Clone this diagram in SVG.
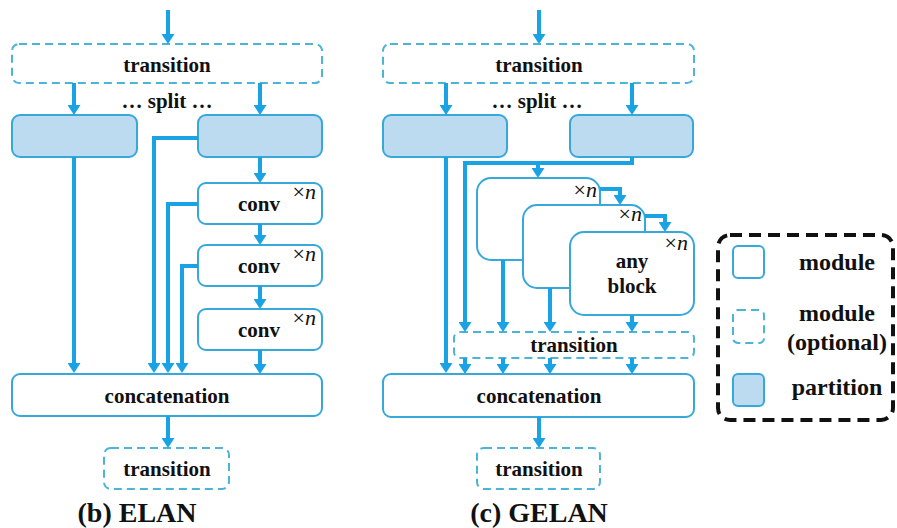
<svg xmlns="http://www.w3.org/2000/svg" width="897" height="528" viewBox="0 0 897 528">
<style>
.mod{fill:#fff;stroke:#36a8da;stroke-width:2}
.opt{fill:#fff;stroke:#4cb4d6;stroke-width:2;stroke-dasharray:8 5}
.part{fill:#bcdaf0;stroke:#36a8da;stroke-width:2}
.blk{fill:#fff;stroke:#36a8da;stroke-width:2}
.c{fill:none;stroke:#19a3e4;stroke-width:4;marker-end:url(#ah)}
.t{font-family:"Liberation Serif","Times New Roman",serif;font-weight:bold;font-size:21px;fill:#111;text-anchor:middle}
.xn{font-family:"Liberation Serif","Times New Roman",serif;font-size:22px;fill:#111;text-anchor:end}
.cap{font-family:"Liberation Serif","Times New Roman",serif;font-weight:bold;font-size:28px;fill:#111;text-anchor:middle}
.lg{font-family:"Liberation Serif","Times New Roman",serif;font-weight:bold;font-size:24px;fill:#111;text-anchor:middle}
</style>
<defs>
<marker id="ah" markerUnits="userSpaceOnUse" markerWidth="12" markerHeight="13" refX="4" refY="6.5" orient="auto">
<path d="M0,0 L10,6.5 L0,13 z" fill="#19a3e4"/>
</marker>
</defs>
<rect width="897" height="528" fill="#fff"/>

<!-- ELAN -->
<g id="elan-transition-top"><rect class="opt" x="12" y="44" width="310" height="39" rx="7"/><text class="t" x="167" y="72">transition</text></g>
<text class="t" x="167" y="108">… split …</text>
<g id="elan-part-left"><rect class="part" x="12" y="115" width="125" height="42" rx="8"/></g>
<g id="elan-part-right"><rect class="part" x="198" y="115" width="124" height="42" rx="8"/></g>
<g id="elan-conv1"><rect class="mod" x="198" y="183" width="124" height="41" rx="8"/><text class="t" x="259" y="211">conv</text><text class="xn" x="316" y="199">×<tspan font-style="italic">n</tspan></text></g>
<g id="elan-conv2"><rect class="mod" x="198" y="245" width="124" height="41" rx="8"/><text class="t" x="259" y="273">conv</text><text class="xn" x="316" y="261">×<tspan font-style="italic">n</tspan></text></g>
<g id="elan-conv3"><rect class="mod" x="198" y="309" width="124" height="41" rx="8"/><text class="t" x="259" y="337">conv</text><text class="xn" x="316" y="325">×<tspan font-style="italic">n</tspan></text></g>
<g id="elan-concat"><rect class="mod" x="12" y="374" width="310" height="42" rx="8"/><text class="t" x="167" y="403">concatenation</text></g>
<g id="elan-transition-bottom"><rect class="opt" x="104" y="448" width="125" height="41" rx="7"/><text class="t" x="167" y="476">transition</text></g>
<text class="cap" x="137" y="522">(b) ELAN</text>

<!-- GELAN -->
<g id="gelan-transition-top"><rect class="opt" x="383" y="44" width="311" height="39" rx="7"/><text class="t" x="539" y="72">transition</text></g>
<text class="t" x="537" y="108">… split …</text>
<g id="gelan-part-left"><rect class="part" x="383" y="115" width="124" height="42" rx="8"/></g>
<g id="gelan-part-right"><rect class="part" x="570" y="115" width="123" height="42" rx="8"/></g>
<g id="gelan-block1"><rect class="blk" x="477" y="178" width="123" height="82" rx="14"/><text class="xn" x="597" y="197">×<tspan font-style="italic">n</tspan></text></g>
<g id="gelan-block2"><rect class="blk" x="523" y="205" width="122" height="83" rx="14"/><text class="xn" x="642" y="221">×<tspan font-style="italic">n</tspan></text></g>
<g id="gelan-block3"><rect class="blk" x="570" y="232" width="124" height="83" rx="14"/><text class="xn" x="688" y="250">×<tspan font-style="italic">n</tspan></text><text class="t" x="632" y="268">any</text><text class="t" x="632" y="293">block</text></g>
<g id="gelan-transition-mid"><rect class="opt" x="454" y="332" width="240" height="26" rx="6"/><text class="t" x="574" y="352">transition</text></g>
<g id="gelan-concat"><rect class="mod" x="383" y="374" width="311" height="43" rx="8"/><text class="t" x="539" y="403">concatenation</text></g>
<g id="gelan-transition-bottom"><rect class="opt" x="477" y="448" width="123" height="41" rx="7"/><text class="t" x="539" y="476">transition</text></g>
<text class="cap" x="539" y="522">(c) GELAN</text>

<!-- Legend -->
<g id="legend">
<rect x="718" y="235" width="175" height="185" rx="12" fill="none" stroke="#111" stroke-width="4" stroke-dasharray="12 7"/>
<rect class="mod" x="733" y="246" width="31" height="32" rx="5"/>
<rect class="opt" x="733" y="310" width="31" height="33" rx="5" stroke-dasharray="6 4"/>
<rect class="part" x="733" y="374" width="31" height="32" rx="5"/>
<text class="lg" x="837" y="270">module</text>
<text class="lg" x="837" y="321">module</text>
<text class="lg" x="837" y="350">(optional)</text>
<text class="lg" x="837" y="395">partition</text>
</g>

<!-- Connectors -->
<g id="connectors">
<path class="c" d="M168,10 V38"/>
<path class="c" d="M74,83 V109"/>
<path class="c" d="M260,83 V109"/>
<path class="c" d="M74,157 V367"/>
<path class="c" d="M198,138 H154 V367"/>
<path class="c" d="M260,157 V177"/>
<path class="c" d="M198,204 H168 V367"/>
<path class="c" d="M260,224 V239"/>
<path class="c" d="M198,266 H182 V367"/>
<path class="c" d="M260,286 V303"/>
<path class="c" d="M260,350 V368"/>
<path class="c" d="M168,416 V442"/>

<path class="c" d="M539,10 V38"/>
<path class="c" d="M446,83 V109"/>
<path class="c" d="M632,83 V109"/>
<path class="c" d="M446,157 V367"/>
<path class="c" d="M632,157 V163 H465 V326"/>
<path class="c" d="M538,163 V172"/>
<path class="c" d="M600,189 H620 V199"/>
<path class="c" d="M645,216 H665 V226"/>
<path class="c" d="M503,260 V326"/>
<path class="c" d="M550,288 V326"/>
<path class="c" d="M632,315 V326"/>
<path class="c" d="M465,358 V368"/>
<path class="c" d="M503,358 V368"/>
<path class="c" d="M550,358 V368"/>
<path class="c" d="M632,358 V368"/>
<path class="c" d="M539,417 V442"/>
</g>
</svg>
